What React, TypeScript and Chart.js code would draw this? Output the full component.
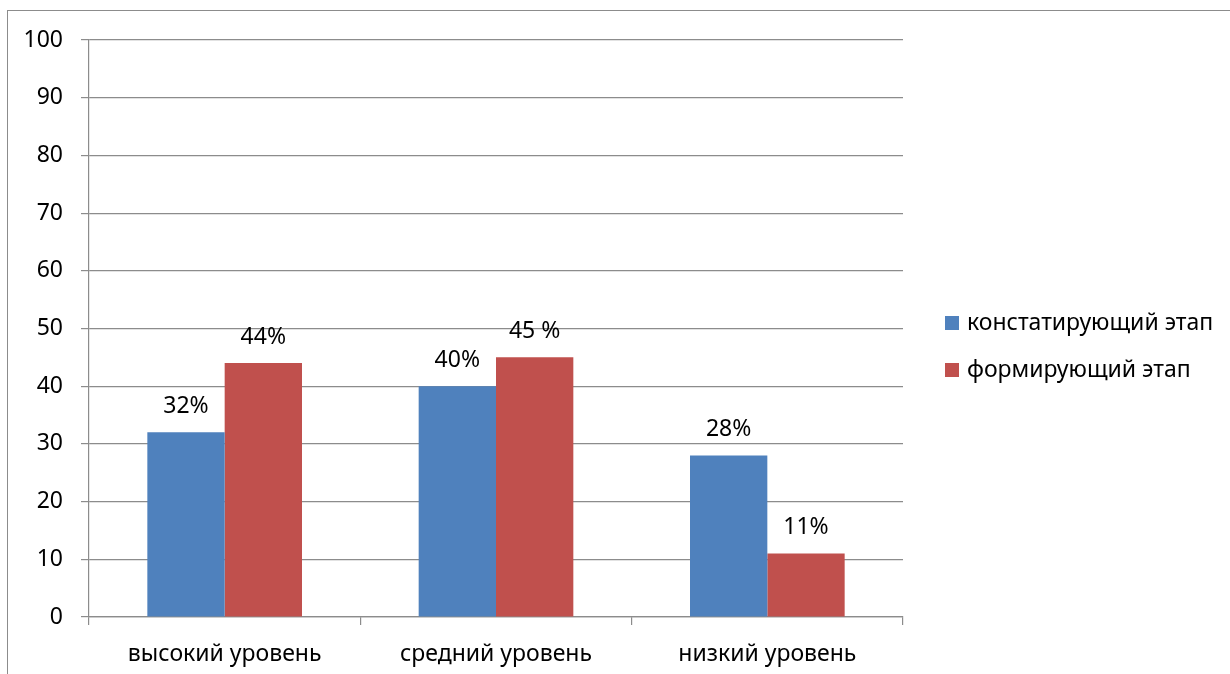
import React, { useEffect, useRef } from "react";
import { Chart, registerables } from "chart.js";

Chart.register(...registerables);

// Levels compared across the two stages of the experiment
const categories = ["высокий уровень", "средний уровень", "низкий уровень"];
const seriesNames = ["констатирующий этап", "формирующий этап"];
const ascertainingValues = [32, 40, 28];
const formativeValues = [44, 45, 11];
const ascertainingLabels = ["32%", "40%", "28%"];
const formativeLabels = ["44%", "45 %", "11%"];
const seriesColors = ["#4f81bd", "#c0504d"];

const FONT = "'Noto Sans', sans-serif";
const FONT_SIZE = 23;
const AXIS_GRAY = "#8c8c8c";

// Percent labels above each bar
const valueLabelsPlugin = {
  id: "valueLabels",
  afterDatasetsDraw(chart: any) {
    const ctx = chart.ctx;
    const labelSets = [ascertainingLabels, formativeLabels];
    ctx.save();
    ctx.font = `${FONT_SIZE}px ${FONT}`;
    ctx.fillStyle = "#000";
    ctx.textAlign = "center";
    ctx.textBaseline = "middle";
    chart.data.datasets.forEach((_ds: any, i: number) => {
      const meta = chart.getDatasetMeta(i);
      meta.data.forEach((bar: any, j: number) => {
        ctx.fillText(labelSets[i][j], bar.x, bar.y - 26);
      });
    });
    ctx.restore();
  },
};

// Legend on the right, square markers followed by the series names
const sideLegendPlugin = {
  id: "sideLegend",
  afterDraw(chart: any) {
    const ctx = chart.ctx;
    const area = chart.chartArea;
    const x = area.right + 42;
    const mid = (area.top + area.bottom) / 2;
    const rowYs = [mid - 5.5, mid + 41.5];
    ctx.save();
    ctx.font = `${FONT_SIZE}px ${FONT}`;
    ctx.textAlign = "left";
    ctx.textBaseline = "middle";
    chart.data.datasets.forEach((ds: any, i: number) => {
      const y = rowYs[i];
      ctx.fillStyle = ds.backgroundColor;
      ctx.fillRect(x, y - 7, 14, 14);
      ctx.fillStyle = "#000";
      ctx.fillText(ds.label, x + 22, y);
    });
    ctx.restore();
  },
};

export default function App() {
  const canvasRef = useRef<HTMLCanvasElement | null>(null);

  useEffect(() => {
    if (!canvasRef.current) return;
    const chart = new Chart(canvasRef.current, {
      type: "bar",
      data: {
        labels: categories,
        datasets: [
          {
            label: seriesNames[0],
            data: ascertainingValues,
            backgroundColor: seriesColors[0],
            categoryPercentage: 0.57,
            barPercentage: 1.0,
          },
          {
            label: seriesNames[1],
            data: formativeValues,
            backgroundColor: seriesColors[1],
            categoryPercentage: 0.57,
            barPercentage: 1.0,
          },
        ],
      },
      options: {
        animation: false,
        responsive: false,
        maintainAspectRatio: false,
        layout: { padding: { top: 40, right: 327, bottom: 0, left: 0 } },
        plugins: {
          legend: { display: false },
          tooltip: { enabled: false },
        },
        scales: {
          x: {
            afterFit(scale: any) {
              scale.height = 57;
            },
            grid: {
              offset: true,
              drawOnChartArea: false,
              drawTicks: true,
              tickLength: 8,
              color: AXIS_GRAY,
              lineWidth: 1.2,
            },
            border: { display: true, color: AXIS_GRAY, width: 1.2 },
            ticks: {
              color: "#000",
              font: { family: FONT, size: FONT_SIZE },
              padding: 16,
            },
          },
          y: {
            min: 0,
            max: 100,
            afterFit(scale: any) {
              scale.width = 89;
            },
            ticks: {
              stepSize: 10,
              color: "#000",
              font: { family: FONT, size: FONT_SIZE },
              padding: 18,
            },
            grid: {
              color: AXIS_GRAY,
              lineWidth: 1.2,
              drawTicks: true,
              tickLength: 8,
            },
            border: { display: true, color: AXIS_GRAY, width: 1.2 },
          },
        },
      },
      plugins: [valueLabelsPlugin, sideLegendPlugin],
    });
    return () => chart.destroy();
  }, []);

  return (
    <div
      style={{
        position: "fixed",
        left: 0,
        top: 0,
        width: 1230,
        height: 674,
        background: "#fff",
        overflow: "hidden",
      }}
    >
      <canvas ref={canvasRef} width={1230} height={674} style={{ display: "block" }} />
      <div
        style={{
          position: "absolute",
          left: 7,
          top: 10,
          width: 1400,
          height: 800,
          borderLeft: "1.5px solid #8c8c8c",
          borderTop: "1.5px solid #8c8c8c",
          pointerEvents: "none",
        }}
      />
    </div>
  );
}
